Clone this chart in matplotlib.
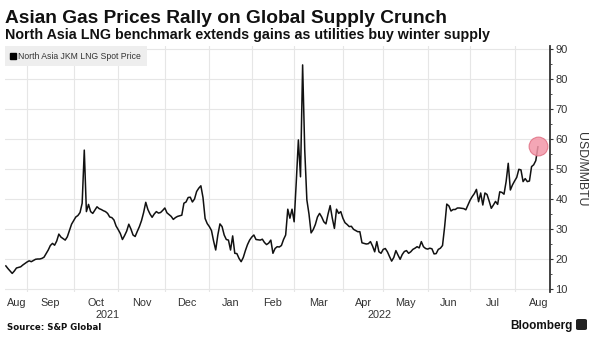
import numpy as np
import pandas as pd
import matplotlib
matplotlib.use("Agg")
import matplotlib.pyplot as plt
from matplotlib.lines import Line2D
from matplotlib.patches import FancyBboxPatch
import matplotlib.transforms as mtransforms

# ---------------- data ----------------
start_date = "2021-08-17"
holidays = ["2021-08-30", "2021-12-27", "2021-12-28", "2022-01-03",
            "2022-04-15", "2022-04-18", "2022-05-02", "2022-06-02", "2022-06-03"]

prices_aug21 = [17.7, 16.8, 16.0, 15.2, 16.0, 17.0, 17.2, 17.4, 18.0, 18.5]
prices_sep21 = [19.0, 19.4, 19.1, 19.5, 19.9, 20.0, 20.0, 20.2, 20.6, 21.8, 23.0,
                24.5, 25.2, 24.6, 26.0, 28.3, 27.3, 26.8, 26.3, 27.4, 29.5, 31.6]
prices_oct21 = [32.8, 34.0, 34.5, 35.5, 38.6, 56.3, 35.8, 38.2, 35.8, 35.2, 36.3,
                37.4, 36.8, 36.5, 36.1, 35.8, 35.2, 34.0, 33.8, 33.0, 31.0]
prices_nov21 = [29.8, 28.5, 26.5, 27.8, 29.3, 31.6, 30.0, 28.0, 27.5, 29.2, 30.8,
                32.8, 35.5, 38.9, 36.5, 35.0, 33.9, 35.0, 35.8, 35.3, 35.5, 36.2]
prices_dec21 = [37.0, 35.4, 34.8, 34.2, 33.2, 33.8, 34.2, 34.4, 34.6, 38.6, 39.0,
                40.5, 40.6, 39.0, 40.0, 42.5, 43.6, 44.4, 40.5, 33.5, 31.8]
prices_jan22 = [30.8, 29.5, 26.0, 23.0, 28.0, 31.7, 30.8, 28.0, 26.5, 26.3, 23.0,
                27.7, 21.9, 21.8, 20.2, 19.1, 20.5, 22.8, 24.8, 26.3]
prices_feb22 = [27.3, 28.0, 26.5, 26.4, 26.3, 26.6, 25.5, 24.8, 25.3, 26.3, 21.9,
                23.5, 24.1, 24.0, 24.5, 26.5, 28.0, 36.6, 33.6, 36.6]
prices_mar22 = [32.4, 45.6, 59.7, 47.4, 84.7, 56.3, 39.7, 35.0, 28.7, 29.8, 31.5,
                34.0, 35.2, 34.0, 32.4, 31.7, 35.0, 37.8, 33.6, 30.2, 36.6, 35.2, 35.8]
prices_apr22 = [33.6, 32.1, 31.5, 30.8, 30.9, 29.9, 29.5, 29.1, 29.1, 25.4, 25.2,
                25.0, 25.1, 25.8, 24.3, 22.4, 25.8, 22.4, 21.9]
prices_may22 = [23.2, 23.5, 22.4, 20.8, 19.3, 20.5, 22.8, 21.3, 19.9, 21.5, 22.5,
                22.8, 21.9, 22.4, 23.2, 23.6, 24.1, 23.7, 25.8, 24.1, 23.5]
prices_jun22 = [23.3, 23.6, 23.4, 21.7, 21.8, 23.2, 23.6, 24.5, 30.8, 38.3, 37.7,
                36.0, 36.5, 36.5, 37.0, 37.0, 36.9, 36.8, 36.4, 38.0]
prices_jul22 = [39.6, 40.8, 41.8, 43.2, 39.1, 42.0, 38.0, 42.0, 41.5, 39.3, 36.9,
                38.0, 39.2, 38.2, 42.4, 42.2, 41.6, 45.8, 51.9, 43.0, 44.7]
prices_aug22 = [46.0, 47.2, 49.9, 49.7, 45.8, 46.8, 45.8, 46.0, 50.8, 51.4, 52.8, 57.4]

prices = (prices_aug21 + prices_sep21 + prices_oct21 + prices_nov21 + prices_dec21
          + prices_jan22 + prices_feb22 + prices_mar22 + prices_apr22 + prices_may22
          + prices_jun22 + prices_jul22 + prices_aug22)

month_labels = ["Aug", "Sep", "Oct", "Nov", "Dec", "Jan", "Feb", "Mar", "Apr",
                "May", "Jun", "Jul", "Aug"]
year_labels = ["2021", "2022"]
y_ticks = [10, 20, 30, 40, 50, 60, 70, 80, 90]

title = "Asian Gas Prices Rally on Global Supply Crunch"
subtitle = "North Asia LNG benchmark extends gains as utilities buy winter supply"
series_name = "North Asia JKM LNG Spot Price"
y_title = "USD/MMBTU"
source = "Source: S&P Global"

FONT = "Liberation Sans"

# ---------------- dates / trading-day axis ----------------
dates = pd.bdate_range(start_date, periods=len(prices), freq="C", holidays=holidays)
d0 = np.datetime64(start_date)
hol = np.array(holidays, dtype="datetime64[D]")
x = np.busday_count(d0, dates.values.astype("datetime64[D]"), holidays=hol)

month_starts = pd.date_range("2021-08-01", "2022-09-01", freq="MS").values.astype("datetime64[D]")
ms_idx = np.busday_count(d0, month_starts, holidays=hol)
grid_x = ms_idx[1:-1]                    # Sep 2021 ... Aug 2022
label_x = [(max(ms_idx[i], 0) + ms_idx[i + 1]) / 2.0 for i in range(len(month_labels))]

x_left = -0.4
x_right = 256.7
jan_idx = np.busday_count(d0, np.datetime64("2022-01-01"), holidays=hol)
year_x = [(x_left + jan_idx) / 2.0, (jan_idx + x_right) / 2.0]

# ---------------- figure ----------------
fig = plt.figure(figsize=(6.0, 3.53), dpi=100)
W, H = 600.0, 353.0
ax = fig.add_axes([5 / W, 1 - 292 / H, 545 / W, 246 / H])

ax.plot(x, prices, color="#111111", lw=1.1, zorder=3)
ax.plot(x[-1], prices[-1] + 0.4, marker="o", ms=13.5, mfc="#f397a8", mec="#e07084",
        mew=0.8, alpha=0.85, zorder=4, linestyle="none")

ax.set_xlim(x_left, x_right)
ax.set_ylim(9, 91)

ax.set_xticks(grid_x)
ax.set_xticklabels([])
ax.set_xticks(label_x, minor=True)
ax.set_xticklabels(month_labels, minor=True)
ax.tick_params(axis="x", which="both", length=0, pad=4.0, labelsize=7.8,
               labelcolor="#333333")
for t in ax.get_xticklabels(minor=True):
    t.set_fontfamily(FONT)

ax.yaxis.tick_right()
ax.set_yticks(y_ticks)
ax.set_yticks(np.arange(10, 91, 5), minor=True)
ax.tick_params(axis="y", which="major", direction="out", length=2.5, width=0.8,
               pad=1.5, labelsize=8.0, colors="#333333")
ax.tick_params(axis="y", which="minor", direction="out", length=1.5, width=0.6,
               colors="#333333")
for t in ax.get_yticklabels():
    t.set_fontfamily(FONT)

ax.grid(True, which="major", color="#e6e6e6", lw=0.8, zorder=0)
for s in ["left", "top", "bottom"]:
    ax.spines[s].set_visible(False)
ax.spines["right"].set_color("#333333")
ax.spines["right"].set_linewidth(1.3)

ax.yaxis.set_label_position("right")
ax.set_ylabel(y_title, rotation=270, fontsize=8.8, color="#333333", family=FONT)
ax.yaxis.set_label_coords((581 - 5) / 545, 0.5)
ax.yaxis.label.set_va("center")
ax.yaxis.label.set_ha("center")

trans = mtransforms.blended_transform_factory(ax.transData, fig.transFigure)
for yl, yx in zip(year_labels, year_x):
    ax.text(yx, 1 - 314.5 / H, yl, transform=trans, ha="center", va="center",
            fontsize=7.8, color="#333333", family=FONT)

leg = ax.legend(handles=[Line2D([], [], marker="s", color="#000000", linestyle="none",
                                markersize=4)],
                labels=[series_name], loc="upper left", bbox_to_anchor=(0, 1),
                borderaxespad=0, frameon=True, fancybox=False, framealpha=1,
                facecolor="#eeeeee", edgecolor="none", handlelength=0.6,
                handletextpad=0.3, borderpad=0.65,
                prop={"family": FONT, "size": 6.2})
for t in leg.get_texts():
    t.set_color("#333333")

fig.text(5 / W, 1 - 22.7 / H, title, fontsize=13.8, fontweight="bold",
         family=FONT, color="#111111", va="baseline", ha="left")
fig.text(5 / W, 1 - 38.8 / H, subtitle, fontsize=10.3, fontweight="bold",
         family=FONT, color="#111111", va="baseline", ha="left")
fig.text(7 / W, 1 - 330 / H, source, fontsize=6.2, fontweight="bold",
         family="DejaVu Sans", color="#111111", va="baseline", ha="left")
fig.text(573 / W, 1 - 329.5 / H, "Bloomberg", fontsize=8.5, fontweight="bold",
         family=FONT, color="#111111", va="baseline", ha="right")
fig.patches.append(FancyBboxPatch((576 / W, 1 - 330 / H), 11 / W, 11 / H,
                                  boxstyle="round,pad=0,rounding_size=0.004",
                                  transform=fig.transFigure, facecolor="#222222",
                                  edgecolor="none"))

fig.savefig("out.png", dpi=100)
